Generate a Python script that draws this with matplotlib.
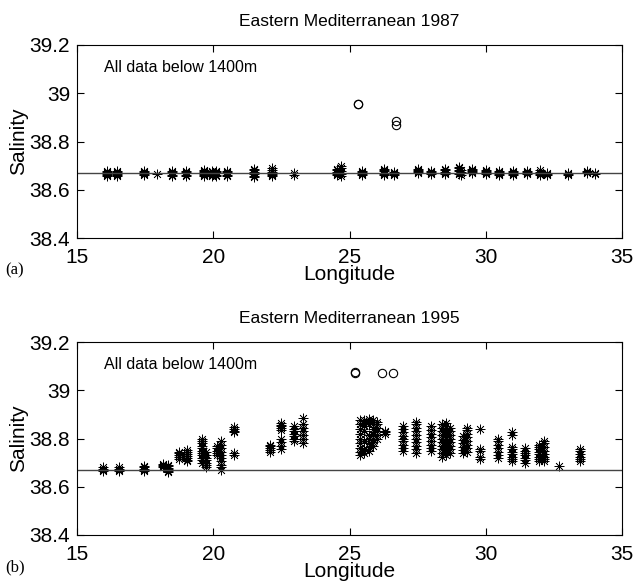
import matplotlib.pyplot as plt

plt.rcParams['font.family'] = ['Liberation Sans', 'DejaVu Sans']

# 1987 stations (longitude) and salinities below 1400 m
lon87 = [16.1, 16.45, 17.45, 17.95, 18.5, 19.0, 19.65, 19.95, 20.1, 20.5,
         21.5, 22.15, 22.95, 24.55, 24.7, 25.45, 26.25, 26.65, 27.5, 28.0,
         28.5, 29.0, 29.1, 29.5, 30.0, 30.5, 31.0, 31.5, 32.0, 32.25,
         33.0, 33.7, 34.0]
sal87 = [
    [38.658, 38.662, 38.666, 38.670, 38.674, 38.677],
    [38.658, 38.662, 38.666, 38.670, 38.675, 38.678],
    [38.660, 38.664, 38.668, 38.672, 38.676],
    [38.665],
    [38.658, 38.663, 38.668, 38.673, 38.677],
    [38.658, 38.663, 38.668, 38.673, 38.677],
    [38.657, 38.662, 38.667, 38.672, 38.677, 38.682],
    [38.657, 38.662, 38.667, 38.672, 38.677],
    [38.658, 38.663, 38.668, 38.673, 38.678],
    [38.658, 38.663, 38.668, 38.673, 38.677],
    [38.652, 38.658, 38.665, 38.672, 38.680, 38.686],
    [38.655, 38.660, 38.667, 38.675, 38.683, 38.690],
    [38.662, 38.668],
    [38.660, 38.665, 38.670, 38.675, 38.680, 38.686],
    [38.658, 38.664, 38.670, 38.678, 38.690, 38.700],
    [38.660, 38.664, 38.668, 38.672, 38.676],
    [38.660, 38.665, 38.670, 38.676, 38.682, 38.688],
    [38.662, 38.666, 38.670, 38.674],
    [38.668, 38.672, 38.676, 38.680, 38.684],
    [38.666, 38.670, 38.674, 38.678],
    [38.665, 38.670, 38.675, 38.680, 38.684],
    [38.664, 38.670, 38.676, 38.682, 38.690, 38.696],
    [38.662, 38.668, 38.674, 38.680],
    [38.668, 38.672, 38.676, 38.680, 38.684],
    [38.664, 38.668, 38.672, 38.676, 38.682],
    [38.662, 38.666, 38.670, 38.674, 38.678],
    [38.660, 38.664, 38.668, 38.672, 38.677],
    [38.664, 38.668, 38.672, 38.676],
    [38.662, 38.666, 38.670, 38.675, 38.680],
    [38.663, 38.667, 38.671],
    [38.662, 38.666, 38.670],
    [38.668, 38.672, 38.676],
    [38.664, 38.668],
]
circ_lon87 = [25.3, 25.3, 26.7, 26.7]
circ_sal87 = [38.955, 38.957, 38.887, 38.868]

# 1995 stations
lon95 = [15.95, 16.55, 17.45, 18.15, 18.35, 18.75, 19.05, 19.6, 19.72, 20.15,
         20.27, 20.75, 22.1, 22.5, 22.95, 23.3, 25.4, 25.55, 25.7, 25.85,
         26.0, 26.3, 26.95, 27.45, 28.0, 28.4, 28.55, 28.7, 29.15, 29.3,
         29.8, 30.45, 30.95, 31.45, 31.95, 32.15, 32.7, 33.45]
sal95 = [
    [38.665, 38.670, 38.675, 38.680],
    [38.665, 38.670, 38.675, 38.680],
    [38.665, 38.670, 38.675, 38.680, 38.684],
    [38.680, 38.685, 38.690, 38.695],
    [38.660, 38.666, 38.672, 38.678, 38.685, 38.690],
    [38.715, 38.722, 38.730, 38.738, 38.745],
    [38.705, 38.712, 38.720, 38.728, 38.736, 38.745, 38.752],
    [38.700, 38.710, 38.720, 38.730, 38.740, 38.750, 38.760, 38.770, 38.780, 38.790, 38.798],
    [38.680, 38.690, 38.700, 38.710, 38.720, 38.730, 38.745],
    [38.730, 38.740, 38.750, 38.760, 38.770],
    [38.668, 38.680, 38.692, 38.705, 38.718, 38.730, 38.745, 38.760, 38.775, 38.790],
    [38.730, 38.738, 38.826, 38.833, 38.840, 38.847],
    [38.745, 38.752, 38.760, 38.768, 38.775],
    [38.755, 38.770, 38.785, 38.800, 38.835, 38.842, 38.850, 38.857, 38.864],
    [38.790, 38.800, 38.810, 38.820, 38.830, 38.840, 38.850],
    [38.780, 38.800, 38.815, 38.830, 38.845, 38.860, 38.885],
    [38.730, 38.745, 38.760, 38.780, 38.800, 38.820, 38.840, 38.860, 38.875],
    [38.740, 38.755, 38.790, 38.830, 38.850, 38.865, 38.878],
    [38.750, 38.765, 38.780, 38.800, 38.815, 38.860, 38.872, 38.880],
    [38.770, 38.785, 38.800, 38.820, 38.840, 38.860, 38.875],
    [38.800, 38.815, 38.830, 38.845, 38.860, 38.870],
    [38.820, 38.826, 38.832],
    [38.750, 38.762, 38.775, 38.788, 38.800, 38.812, 38.825, 38.838, 38.850],
    [38.740, 38.755, 38.770, 38.785, 38.800, 38.815, 38.830, 38.845, 38.860, 38.870],
    [38.750, 38.760, 38.775, 38.790, 38.805, 38.820, 38.835, 38.850],
    [38.725, 38.740, 38.755, 38.770, 38.785, 38.800, 38.815, 38.830, 38.845, 38.860],
    [38.730, 38.745, 38.760, 38.775, 38.790, 38.805, 38.820, 38.835, 38.850, 38.865],
    [38.740, 38.755, 38.770, 38.785, 38.800, 38.815, 38.830, 38.845],
    [38.740, 38.752, 38.765, 38.780, 38.795, 38.810],
    [38.745, 38.760, 38.775, 38.790, 38.805, 38.820, 38.835, 38.845],
    [38.715, 38.722, 38.750, 38.758, 38.840],
    [38.720, 38.730, 38.745, 38.760, 38.775, 38.790, 38.800],
    [38.705, 38.715, 38.725, 38.735, 38.745, 38.755, 38.765, 38.815, 38.825],
    [38.700, 38.710, 38.720, 38.730, 38.740, 38.750, 38.760],
    [38.705, 38.715, 38.725, 38.735, 38.745, 38.755, 38.765, 38.775],
    [38.705, 38.715, 38.725, 38.735, 38.750, 38.765, 38.780, 38.790],
    [38.685],
    [38.705, 38.715, 38.725, 38.735, 38.750, 38.755],
]
circ_lon95 = [25.2, 25.2, 26.2, 26.6]
circ_sal95 = [39.072, 39.074, 39.070, 39.070]

ref_sal = 38.67

panels = [
    ('Eastern Mediterranean 1987', lon87, sal87, circ_lon87, circ_sal87, '(a)'),
    ('Eastern Mediterranean 1995', lon95, sal95, circ_lon95, circ_sal95, '(b)'),
]

fig = plt.figure(figsize=(6.38, 5.82), dpi=100)
W, H = 638, 582
boxes = [(77, 45, 622, 238), (77, 342, 622, 535)]

for (title, lons, sals, clon, csal, tag), (x0, y0, x1, y1) in zip(panels, boxes):
    ax = fig.add_axes([x0 / W, 1 - y1 / H, (x1 - x0) / W, (y1 - y0) / H])
    xs = [lo for lo, vals in zip(lons, sals) for _ in vals]
    ys = [v for vals in sals for v in vals]
    ax.plot(xs, ys, linestyle='none', marker=(8, 2, 0), markersize=7,
            markeredgewidth=0.5, color='black')
    ax.plot(clon, csal, linestyle='none', marker='o', markersize=6,
            markerfacecolor='none', markeredgecolor='black', markeredgewidth=0.8)
    ax.axhline(ref_sal, color='#444444', linewidth=1.0)
    ax.set_xlim(15, 35)
    ax.set_ylim(38.4, 39.2)
    ax.set_xticks([15, 20, 25, 30, 35])
    ax.set_yticks([38.4, 38.6, 38.8, 39.0, 39.2])
    ax.set_yticklabels(['38.4', '38.6', '38.8', '39', '39.2'])
    ax.tick_params(direction='in', top=True, right=True, length=5,
                   labelsize=15, width=0.8)
    ax.tick_params(axis='x', pad=7)
    ax.tick_params(axis='y', pad=5)
    for sp in ax.spines.values():
        sp.set_linewidth(0.8)
    ax.set_title(title, fontsize=12.5, pad=14)
    ax.set_xlabel('Longitude', fontsize=15, labelpad=-1)
    ax.set_ylabel('Salinity', fontsize=15, labelpad=1)
    ax.text(0.05, 0.86, 'All data below 1400m', transform=ax.transAxes,
            fontsize=11.5)
    fig.text(5 / W, 1 - (y1 + 32) / H, tag, fontsize=12, family='Liberation Serif',
             va='center')

fig.savefig('out.png', dpi=100)
